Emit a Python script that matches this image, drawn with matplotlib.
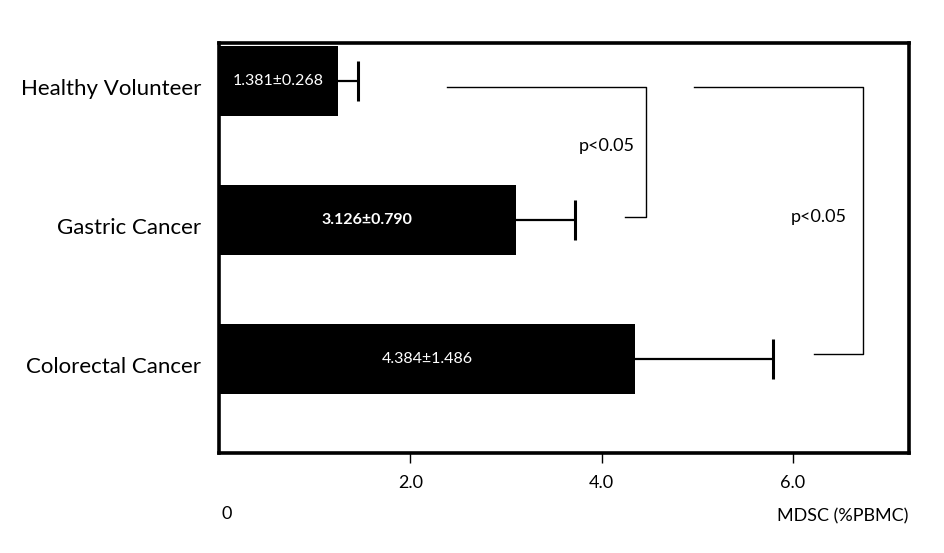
import matplotlib.pyplot as plt
import matplotlib.transforms as mtransforms

plt.rcParams['font.family'] = ['Lato', 'DejaVu Sans']

groups = ['Healthy Volunteer', 'Gastric Cancer', 'Colorectal Cancer']
means = [1.24, 3.10, 4.35]          # bar lengths as drawn
errors = [0.21, 0.62, 1.44]         # error bar lengths as drawn
bar_labels = ['1.381±0.268', '3.126±0.790', '4.384±1.486']
label_weights = ['normal', 'bold', 'normal']
xticks = [2.0, 4.0, 6.0]
xtick_labels = ['2.0', '4.0', '6.0']

# significance brackets: (x_start_top, x_end_bottom, x_vertical, y_top, y_bottom)
brackets = [(2.38, 4.24, 4.46, 0.043, 0.978),
            (4.97, 6.22, 6.73, 0.043, 1.964)]
p_labels = [(4.05, 0.47, 'p<0.05'), (6.27, 0.98, 'p<0.05')]

fig = plt.figure(figsize=(9.45, 5.53), dpi=100)
ax = fig.add_axes([0.2317, 0.1808, 0.730, 0.7414])

ypos = list(range(len(groups)))
ax.barh(ypos, means, height=0.5, color='black')

# one-sided error bars: line from bar end, cap only at the far end
ends = [m + e for m, e in zip(means, errors)]
ax.hlines(ypos, means, ends, color='black', lw=1.6)
ax.vlines(ends, [y - 0.145 for y in ypos], [y + 0.145 for y in ypos],
          color='black', lw=2.2)

for y, m, lab, w in zip(ypos, means, bar_labels, label_weights):
    ax.text(m / 2, y, lab, color='white', ha='center', va='center',
            fontsize=11.5, fontweight=w)

for x0, x1, xv, yt, yb in brackets:
    ax.plot([x0, xv, xv, x1], [yt, yt, yb, yb], color='black', lw=1.0)
for x, y, t in p_labels:
    ax.text(x, y, t, ha='center', va='center', fontsize=13)

ax.set_xlim(0, 7.21)
ax.set_ylim(2.676, -0.273)
ax.set_xticks(xticks)
ax.set_xticklabels(xtick_labels, fontsize=13)
ax.set_yticks(ypos)
ax.set_yticklabels(groups, fontsize=16)
ax.tick_params(axis='y', length=0, pad=13)
ax.tick_params(axis='x', direction='out', length=7, width=1, pad=9)

offset = mtransforms.ScaledTranslation(0, -6 / 100, fig.dpi_scale_trans)
for lab in ax.get_yticklabels():
    lab.set_transform(lab.get_transform() + offset)

for s in ax.spines.values():
    s.set_linewidth(2.6)

fig.text(227 / 945, 1 - 514 / 553, '0', ha='center', va='center', fontsize=13)
fig.text(908 / 945, 1 - 516 / 553, 'MDSC (%PBMC)', ha='right', va='center', fontsize=13)

plt.savefig('out.png', dpi=100)
